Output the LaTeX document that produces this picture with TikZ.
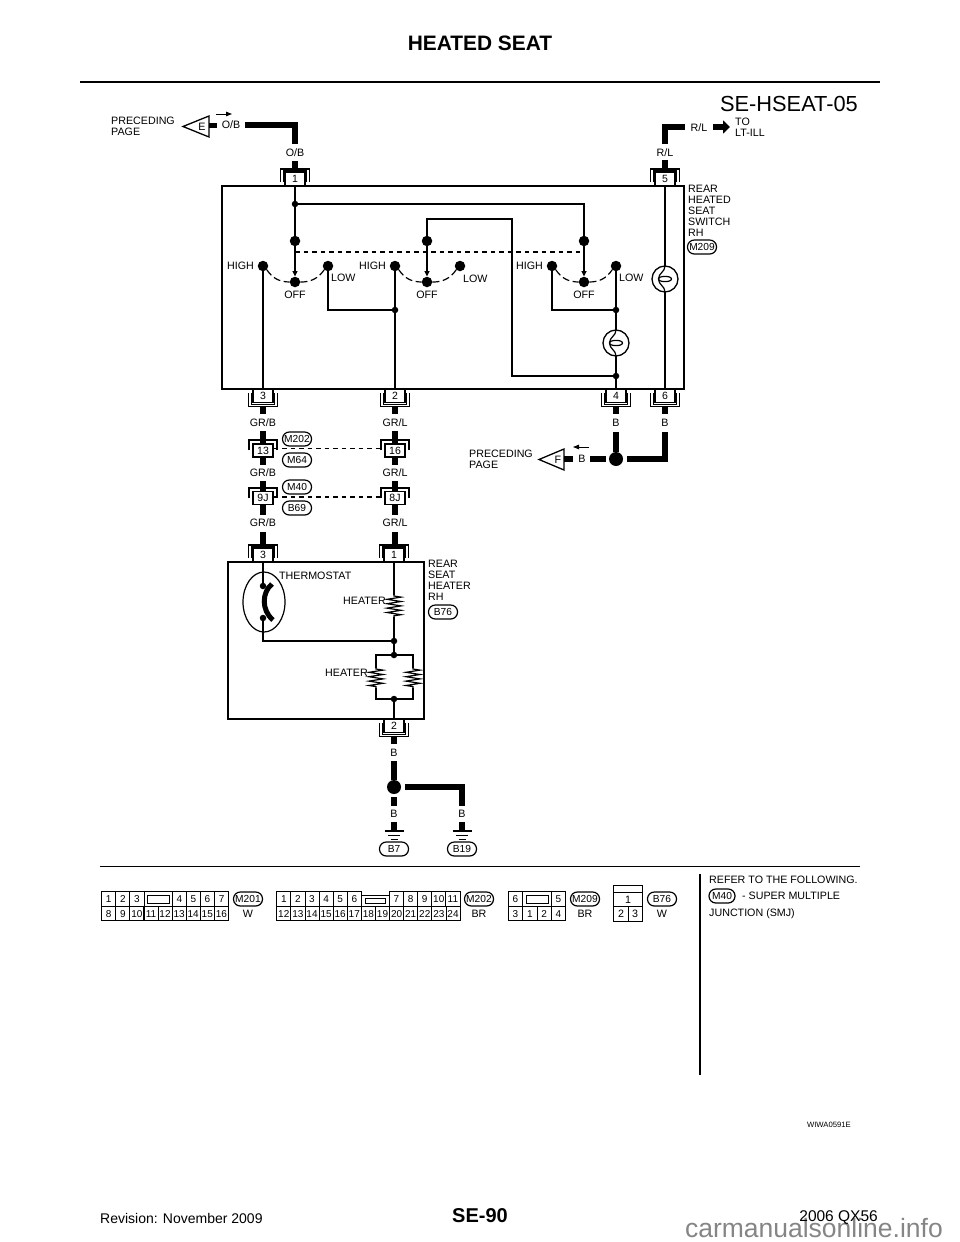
\documentclass[tikz,border=0pt]{standalone}
\usepackage{fontspec}
\setmainfont{Liberation Sans}
\usetikzlibrary{arrows.meta,decorations.pathmorphing}
\tikzset{
  harness/.style={line width=5.8pt},
  wire/.style={line width=1.3pt},
  lbl/.style={font=\fontsize{10.7}{11}\selectfont,inner sep=0pt},
  lblleft/.style={lbl,anchor=west,align=left},
  contact/.style={circle,fill=black,inner sep=0pt,minimum size=10.5pt},
  joint/.style={circle,fill=black,inner sep=0pt,minimum size=6.5pt},
  bigjoint/.style={circle,fill=black,inner sep=0pt,minimum size=14pt},
  pin/.style={draw,line width=1.1pt,fill=white,font=\fontsize{10.5}{11}\selectfont,inner sep=0pt,text height=7.4pt,text depth=0pt,minimum width=20pt,minimum height=13pt},
  tag/.style={draw,line width=1.2pt,rounded corners=6.8pt,font=\fontsize{10.2}{11}\selectfont,inner sep=0pt,text height=7.2pt,text depth=0pt,minimum width=29pt,minimum height=14pt},
  cell/.style={draw,line width=.9pt,font=\fontsize{10}{11}\selectfont,inner sep=0pt,text height=7.1pt,text depth=0pt,minimum width=14.1pt,minimum height=14.4pt},
  coil/.style={line width=1.2pt,decorate,decoration={zigzag,segment length=4.4pt,amplitude=7pt,pre length=1pt,post length=1pt}},
  sweep/.style={line width=1.2pt,dash pattern=on 7pt off 3.5pt},
  link/.style={line width=1.2pt,dash pattern=on 4.5pt off 4pt},
  flow/.style={line width=1.6pt,-{Triangle[length=5.5pt,width=5pt]}},
  pointer/.style={line width=1pt,-{Triangle[length=6pt,width=4.5pt]}},
}
% cup round a connector (#1 = x, #2 = y of the box edge)
\newcommand{\cuptop}[2]{
\draw[line width=1.1pt] (#1-14.5,#2-4)--(#1-14.5,#2-17)--(#1+14.5,#2-17)--(#1+14.5,#2-4);
\draw[line width=1.1pt] (#1-11.5,#2-4)--(#1-11.5,#2-15)--(#1+11.5,#2-15)--(#1+11.5,#2-4);
}
\newcommand{\cupbot}[2]{
\draw[line width=1.1pt] (#1-14.5,#2+4)--(#1-14.5,#2+17.5)--(#1+14.5,#2+17.5)--(#1+14.5,#2+4);
\draw[line width=1.1pt] (#1-11.5,#2+4)--(#1-11.5,#2+15.5)--(#1+11.5,#2+15.5)--(#1+11.5,#2+4);
}
\newcommand{\lamp}[2]{
\draw[line width=1.3pt,fill=white] (#1,#2) circle (13);
\draw[line width=1.2pt] (#1-6.5,#2) .. controls (#1-6.5,#2-3.5) and (#1+6.5,#2-3.5) .. (#1+6.5,#2) .. controls (#1+6.5,#2+3.5) and (#1-6.5,#2+3.5) .. (#1-6.5,#2);
\draw[line width=1.2pt] (#1,#2-13) .. controls (#1,#2-7) and (#1-6.5,#2-6) .. (#1-6.5,#2) .. controls (#1-6.5,#2+6) and (#1,#2+7) .. (#1,#2+13);
}
\newcommand{\gnd}[2]{
\draw[line width=1.3pt] (#1-9.5,#2)--(#1+9.5,#2);
\draw[line width=.9pt] (#1-6,#2+4.5)--(#1+6,#2+4.5);
\draw[line width=.9pt] (#1-3.5,#2+8.5)--(#1+3.5,#2+8.5);
}
\begin{document}
\begin{tikzpicture}[x=1pt,y=-1pt]
\useasboundingbox (0,0) rectangle (960,1242);
% page head and foot
\node[font=\bfseries\fontsize{20.9}{22}\selectfont] (head) at (480,43) {HEATED SEAT};
\draw[line width=2.6pt] (80,82)--(880,82);
\node[font=\fontsize{21.8}{24}\selectfont,anchor=east,inner sep=0pt] (sheet) at (858,104) {SE-HSEAT-05};
\node[font=\bfseries\fontsize{20}{22}\selectfont] (pageno) at (480,1216) {SE-90};
\node[font=\fontsize{14}{16}\selectfont,anchor=west,inner sep=0pt] (rev) at (100,1218) {Revision: November 2009};
\node[font=\fontsize{26.5}{28}\selectfont,text=black!48,anchor=east,inner sep=0pt] (mark) at (943,1228) {carmanualsonline.info};
\node[font=\fontsize{15.5}{17}\selectfont,anchor=east,inner sep=0pt] (model) at (878,1218) {2006 QX56};
\node[font=\fontsize{7.7}{9}\selectfont,anchor=east,inner sep=0pt] (code) at (851,1125) {WIWA0591E};
% switch box
\draw[line width=1.5pt] (222,186) rectangle (684,389);
\cuptop{295}{186}\cuptop{665}{186}
\cupbot{263}{389}\cupbot{395}{389}\cupbot{616}{389}\cupbot{665}{389}
\node[pin,anchor=south] (p1) at (295,186) {1};
\node[pin,anchor=south] (p5) at (665,186) {5};
\node[pin,anchor=north] (p3) at (263,389) {3};
\node[pin,anchor=north] (p2) at (395,389) {2};
\node[pin,anchor=north] (p4) at (616,389) {4};
\node[pin,anchor=north] (p6) at (665,389) {6};
% contacts
\foreach \nm/\x in {a/295,b/427,c/584}{
  \node[contact] (top\nm) at (\x,241) {};
  \node[contact] (off\nm) at (\x,282) {};
  \node[lbl] at (\x,294.5) {OFF};
  \draw[flow] (top\nm)--(off\nm.north);
}
\foreach \nm/\x in {a/263,b/395,c/552}{
  \node[contact] (high\nm) at (\x,266) {};
  \node[lbl,anchor=east] at (\x-9,266) {HIGH};
}
\foreach \nm/\x in {a/328,b/460,c/616}{
  \node[contact] (low\nm) at (\x,266) {};
}
\node[lblleft] at (331,278) {LOW};
\node[lblleft] at (463,279) {LOW};
\node[lblleft] at (619,278) {LOW};
\foreach \nm in {a,b,c}{
  \draw[sweep] (high\nm.south east) to[bend right=28] (off\nm.west);
  \draw[sweep] (off\nm.east) to[bend right=28] (low\nm.south west);
}
\coordinate (gangl) at (295,252);
\coordinate (gangr) at (583,252);
\draw[link] (gangl)--(gangr);
% switch wiring
\node[joint] (j1) at (295,204) {};
\node[joint] (j2) at (395,310) {};
\node[joint] (j3) at (616,310) {};
\node[joint] (j4) at (616,376) {};
\draw[line width=1.6pt] (p1)--(j1)--(topa);
\draw[wire] (j1)-|(topc);
\draw[wire] (topb)|-(512,219)|-(j4);
\draw[wire] (higha)--(p3);
\draw[wire] (lowa)|-(j2);
\draw[wire] (highb)--(p2);
\draw[wire] (highc)|-(j3);
\draw[wire] (lowc)--(p4);
\draw[wire] (p5)--(p6);
\lamp{616}{343}
\lamp{665}{279}
\node[lblleft] (swname) at (688,211) {REAR\\HEATED\\SEAT\\SWITCH\\RH};
\node[tag] (tm209) at (702,247) {M209};
% upper harness
\node[lbl] (ob1) at (231,125) {O/B};
\node[lbl] (ob2) at (295,153) {O/B};
\draw[harness] (245,125)-|(295,144);
\draw[harness] (295,161)--(295,169);
\draw[line width=1.3pt] (183,126.5)--(209,116)--(209,137)--cycle;
\node[lbl] (plE) at (202,126.5) {E};
\draw[harness] (209,125.5)--(217,125.5);
\draw[pointer] (216,114)--(232,114);
\node[lblleft] (prevE) at (111,126) {PRECEDING\\PAGE};
\node[lbl] (rl1) at (699,128) {R/L};
\node[lbl] (rl2) at (665,153) {R/L};
\draw[harness] (685,127)-|(665,144);
\draw[harness] (665,160)--(665,169);
\draw[-{Triangle[length=7pt,width=13pt]},line width=5.5pt] (713,127)--(730,127);
\node[lblleft] (toill) at (735,127) {TO\\LT-ILL};
% lower harness of the switch
\foreach \x/\t in {263/GR\slash B,395/GR\slash L}{
  \draw[harness] (\x,407)--(\x,414);
  \node[lbl] at (\x,423) {\t};
  \draw[harness] (\x,431)--(\x,444);
  \draw[harness] (\x,457)--(\x,465);
  \node[lbl] at (\x,473) {\t};
  \draw[harness] (\x,481)--(\x,492);
  \draw[harness] (\x,504)--(\x,515);
  \node[lbl] at (\x,523) {\t};
  \draw[harness] (\x,532)--(\x,544);
  \draw[line width=1.1pt] (\x-14,450)--(\x-14,440)--(\x+14,440)--(\x+14,450);
  \draw[line width=1.1pt] (\x-14,498)--(\x-14,488)--(\x+14,488)--(\x+14,498);
}
\node[pin] (c13) at (263,450.5) {13};
\node[pin] (c16) at (395,450.5) {16};
\node[pin] (c9j) at (263,498) {9J};
\node[pin] (c8j) at (395,498) {8J};
\draw[link] ([yshift=2pt]c13.east)--([yshift=2pt]c16.west);
\draw[link] ([yshift=1pt]c9j.east)--([yshift=1pt]c8j.west);
\node[tag] (tm202) at (297,439) {M202};
\node[tag] (tm64) at (297,460) {M64};
\node[tag] (tm40) at (297,487) {M40};
\node[tag] (tb69) at (297,508) {B69};
\node[lbl] (b4) at (616,423) {B};
\node[lbl] (b6) at (665,423) {B};
\node[bigjoint] (jF) at (616,459) {};
\draw[harness] (616,407)--(616,414);
\draw[harness] (665,407)--(665,414);
\draw[harness] (616,432)--(jF);
\draw[harness] (665,432)|-(627,459);
\draw[harness] (606,459)--(590,459);
\node[lbl] (bF) at (582,459) {B};
\draw[harness] (573,459)--(564,459);
\draw[line width=1.3pt] (539,459.5)--(564,449)--(564,470)--cycle;
\node[lbl] (plF) at (558,459.5) {F};
\draw[pointer] (589,447)--(573,447);
\node[lblleft] (prevF) at (469,459) {PRECEDING\\PAGE};
% heater box
\draw[line width=1.5pt] (228,562) rectangle (424,719);
\cuptop{263}{562}\cuptop{394}{562}\cupbot{394}{719}
\node[pin,anchor=south] (h3) at (263,562) {3};
\node[pin,anchor=south] (h1) at (394,562) {1};
\node[pin,anchor=north] (h2) at (394,719) {2};
\node[lblleft] (htname) at (428,580.5) {REAR\\SEAT\\HEATER\\RH};
\node[tag] (tb76) at (443,612) {B76};
\draw[line width=1.2pt] (264,602) ellipse (21 and 30);
\node[lblleft] (therm) at (279,576) {THERMOSTAT};
\node[joint] (tj1) at (263,586) {};
\node[joint] (tj2) at (263,618) {};
\draw[line width=5pt] (272,584).. controls (262,592) and (261,610) .. (273,620);
\node[joint] (h5) at (394,641) {};
\node[joint] (h6) at (394,655) {};
\node[joint] (h7) at (394,699) {};
\draw[wire] (h3)--(tj1);
\draw[wire] (tj2)|-(h5);
\coordinate (hc1) at (394,595);
\coordinate (hc2) at (394,617);
\draw[wire] (h1)--(hc1);
\draw[coil] (hc1)--(hc2);
\draw[wire] (hc2)--(h5)--(h6);
\coordinate (hl1) at (376,668);
\coordinate (hl2) at (376,688);
\coordinate (hr1) at (413,668);
\coordinate (hr2) at (413,688);
\draw[wire] (hl1)|-(h6)-|(hr1);
\draw[wire] (hl2)|-(h7)-|(hr2);
\draw[coil] (hl1)--(hl2);
\draw[coil] (hr1)--(hr2);
\draw[wire] (h7)--(h2);
\node[lbl,anchor=east] (heat1) at (386,601) {HEATER};
\node[lbl,anchor=east] (heat2) at (368,673) {HEATER};
% grounds
\node[lbl] (b7a) at (394,753) {B};
\node[bigjoint] (jG) at (394,787) {};
\node[lbl] (b7b) at (394,814) {B};
\node[lbl] (b19) at (462,814) {B};
\draw[harness] (394,737)--(394,744);
\draw[harness] (394,761)--(jG);
\draw[harness] (394,797)--(394,806);
\draw[harness] (394,822)--(394,831);
\draw[harness] (405,787)-|(462,806);
\draw[harness] (462,822)--(462,831);
\gnd{394}{831}
\gnd{462}{831}
\node[tag] (tb7) at (394,849) {B7};
\node[tag] (tb19) at (462,849) {B19};
% connector views
\draw[line width=.9pt] (100,866)--(860,866);
\draw[line width=1.3pt] (700,874)--(700,1075);
\foreach \n [count=\i] in {1,2,3}{\node[cell] at (94.7+14.07*\i,899) {\n};}
\foreach \n [count=\i] in {4,5,6,7}{\node[cell] at (165.3+14.07*\i,899) {\n};}
\foreach \n [count=\i] in {8,9,10,11,12,13,14,15,16}{\node[cell] at (94.7+14.07*\i,913.5) {\n};}
\node[cell,minimum width=28.1pt] (s201) at (158,899) {};
\draw[line width=1pt] (147,895) rectangle (169,903);
\node[tag] (tm201) at (248,899) {M201};
\node[lbl] at (248,914) {W};
\foreach \n [count=\i] in {1,2,3,4,5,6}{\node[cell] at (269.7+14.1*\i,899) {\n};}
\foreach \n [count=\i] in {7,8,9,10,11}{\node[cell] at (382.4+14.1*\i,899) {\n};}
\foreach \n [count=\i] in {12,13,14,15,16,17,18,19,20,21,22,23,24}{\node[cell] at (269.7+14.1*\i,913.5) {\n};}
\draw[line width=.9pt] (361.3,895)--(389.5,895);
\draw[line width=1pt] (365,898) rectangle (385,903);
\node[tag] (t202) at (479,899) {M202};
\node[lbl] at (479,914) {BR};
\node[cell] at (515.5,899) {6};
\node[cell] at (558.5,899) {5};
\node[cell,minimum width=28.7pt] at (537,899) {};
\draw[line width=1pt] (526,895) rectangle (548,903);
\foreach \n [count=\i] in {3,1,2,4}{\node[cell,minimum width=14.3pt] at (501.2+14.3*\i,913.5) {\n};}
\node[tag] (t209) at (585,899) {M209};
\node[lbl] at (585,914) {BR};
\draw[line width=.9pt] (613.5,885) rectangle (642,921);
\draw[line width=.9pt] (613.5,892.3)--(642,892.3);
\draw[line width=.9pt] (613.5,906.7)--(642,906.7);
\draw[line width=.9pt] (628,906.7)--(628,921);
\node[lbl] at (628,899.5) {1};
\node[lbl] at (621,914) {2};
\node[lbl] at (635,914) {3};
\node[tag] (t76) at (662,899) {B76};
\node[lbl] at (662,914) {W};
\node[lblleft] (ref1) at (709,880) {REFER TO THE FOLLOWING.};
\node[tag,minimum width=26pt] (tm40b) at (722,896) {M40};
\node[lblleft] (ref2) at (742,896) {- SUPER MULTIPLE};
\node[lblleft] (ref3) at (709,914) {JUNCTION (SMJ)};
\end{tikzpicture}
\end{document}
